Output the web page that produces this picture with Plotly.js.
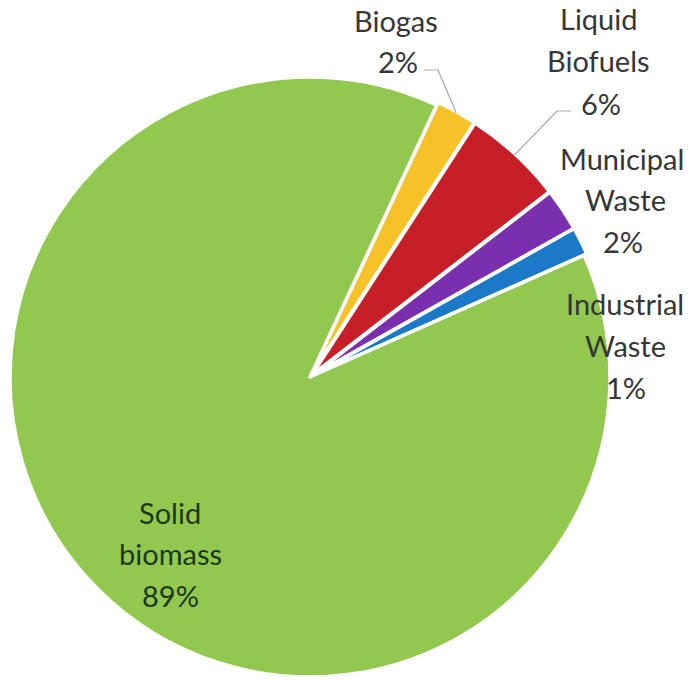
<!DOCTYPE html>
<html>
<head>
<meta charset="utf-8">
<script src="https://cdn.plot.ly/plotly-3.0.1.min.js"></script>
<style>html,body{margin:0;padding:0;background:#fff;}#chart{width:692px;height:680px;}</style>
</head>
<body>
<div id="chart"></div>
<script>
// Data
const categories = ["Biogas", "Liquid Biofuels", "Municipal Waste", "Industrial Waste", "Solid biomass"];
const shares = [2.2, 5.4, 2.3, 1.5, 88.6];
const shareLabels = ["2%", "6%", "2%", "1%", "89%"];
const colors = ["#f7c128", "#c61f28", "#7a2fae", "#1b79c7", "#92c850"];

// Layout geometry (pixels)
const W = 692, H = 680;
const cx = 310, cy = 377, R = 300;
const pullSmall = 0.01;
const startAngle = 25;

// Label placement (pixel centres for each line)
const labelLines = [
  [["Biogas", 396, 20], ["2%", 398, 61]],
  [["Liquid", 598, 18], ["Biofuels", 598, 60], ["6%", 601, 103]],
  [["Municipal", 622, 158], ["Waste", 625, 199], ["2%", 623, 241]],
  [["Industrial", 625, 303], ["Waste", 625, 345], ["1%", 626, 387]],
  [["Solid", 170, 512], ["biomass", 170, 553], ["89%", 170, 595]]
];

const px = x => x / W;
const py = y => 1 - y / H;

const annotations = [];
labelLines.forEach((lines, i) => {
  lines.forEach(([t, x, y]) => {
    annotations.push({
      text: t, x: px(x), y: py(y), xref: "paper", yref: "paper",
      xanchor: "center", yanchor: "middle", showarrow: false,
      font: {family: "Lato, 'Open Sans', sans-serif", size: 29, color: i === 4 ? "#1d3818" : "#363636"}
    });
  });
});

// Leader lines for Biogas and Liquid Biofuels, ending at slice mid-angle
const total = shares.reduce((a, b) => a + b, 0);
function midAngle(idx) {
  let acc = 0;
  for (let k = 0; k < idx; k++) acc += shares[k];
  return startAngle + (acc + shares[idx] / 2) / total * 360;
}
function edgePoint(idx, r) {
  const a = midAngle(idx) * Math.PI / 180;
  return [cx + r * Math.sin(a), cy - r * Math.cos(a)];
}
const leaders = [
  {idx: 0, start: [424, 70], knee: [438, 70], r: 302},
  {idx: 1, start: [571, 111], knee: [557, 111], r: 302}
];
const shapes = [];
leaders.forEach(l => {
  const e = edgePoint(l.idx, l.r);
  shapes.push({type: "path", xref: "paper", yref: "paper",
    path: `M ${px(l.start[0])} ${py(l.start[1])} L ${px(l.knee[0])} ${py(l.knee[1])} L ${px(e[0])} ${py(e[1])}`,
    line: {color: "#a6a6a6", width: 1.2}});
});

const Rdom = R * (1 + pullSmall);
const trace = {
  type: "pie",
  labels: categories,
  values: shares,
  sort: false,
  direction: "clockwise",
  rotation: startAngle,
  textinfo: "none",
  hoverinfo: "label+percent",
  pull: categories.map((c, i) => i < 4 ? pullSmall : 0),
  marker: {colors: colors, line: {color: "#ffffff", width: 3.5}},
  domain: {x: [(cx - Rdom) / W, (cx + Rdom) / W], y: [Math.max(0, 1 - (cy + Rdom) / H), 1 - (cy - Rdom) / H]}
};

const layout = {
  width: W, height: H,
  margin: {l: 0, r: 0, t: 0, b: 0},
  showlegend: false,
  paper_bgcolor: "#ffffff",
  annotations: annotations,
  shapes: shapes
};

Plotly.newPlot("chart", [trace], layout, {displayModeBar: false, staticPlot: true});
</script>
</body>
</html>
